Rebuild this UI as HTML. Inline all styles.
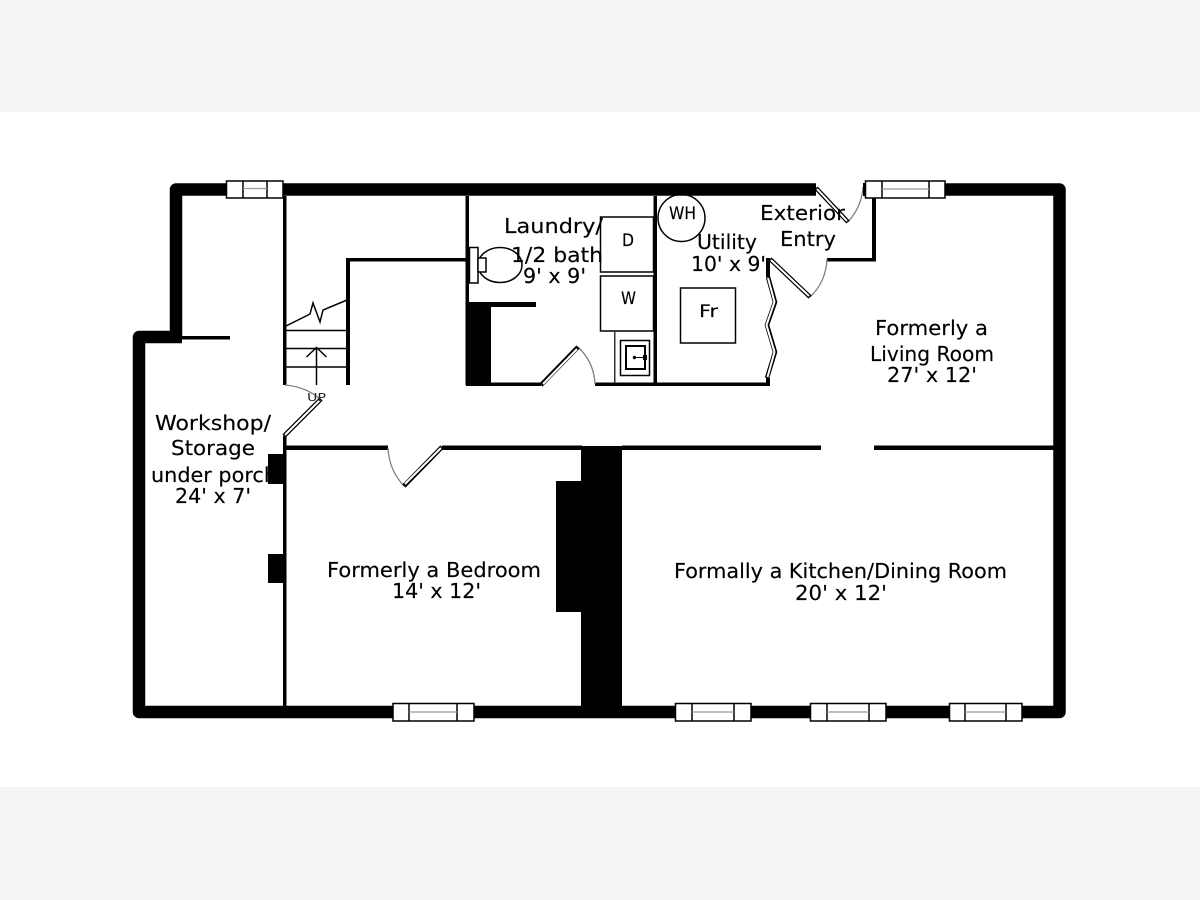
<!DOCTYPE html>
<html><head><meta charset="utf-8"><style>
html,body{margin:0;padding:0;background:#fff}
svg{display:block}
text{font-family:"DejaVu Sans","Liberation Sans",sans-serif;font-size:20px;fill:#000;stroke:#000;stroke-width:.15px}
</style></head><body>
<svg width="1200" height="900" viewBox="0 0 1200 900" xmlns="http://www.w3.org/2000/svg">
<rect width="1200" height="900" fill="#fff"/>
<rect width="1200" height="112" fill="#f5f5f5"/>
<rect y="787" width="1200" height="113" fill="#f5f5f5"/>

<!-- label hidden partly by the wall block -->
<text x="151" y="482" textLength="126" lengthAdjust="spacingAndGlyphs">under porch</text>

<!-- outer walls -->
<path d="M176 337V189.500H816M945 189.500H1059.500V712H139V337H182" fill="none" stroke="#000" stroke-width="12.500" stroke-linejoin="round"/>
<!-- solid masses -->
<g fill="#000">
<rect x="581" y="446" width="41" height="262"/>
<rect x="556" y="481" width="26" height="131"/>
<rect x="268" y="454" width="17" height="30"/>
<rect x="268" y="554" width="17" height="29"/>
<rect x="466" y="303" width="25" height="82"/>
<rect x="182" y="336" width="48" height="3.500"/>
<!-- interior walls -->
<rect x="283" y="196" width="3.500" height="189"/>
<rect x="283" y="436" width="3.500" height="270"/>
<rect x="346" y="259" width="4" height="126"/>
<rect x="346" y="258" width="122" height="3.500"/>
<rect x="465.500" y="196" width="3.500" height="189"/>
<rect x="466" y="302" width="70" height="5"/>
<rect x="466" y="382.500" width="75" height="3.500"/>
<rect x="595" y="382.500" width="174" height="3.500"/>
<rect x="653.500" y="196" width="3.500" height="188"/>
<rect x="872" y="196" width="4" height="65"/>
<rect x="827" y="258" width="49" height="3.500"/>
<rect x="286" y="445.500" width="102" height="4.500"/>
<rect x="442" y="445.500" width="140" height="4.500"/>
<rect x="622" y="445.500" width="199" height="4.500"/>
<rect x="874" y="445.500" width="180" height="4.500"/>
<rect x="766" y="258" width="4" height="19"/>
<rect x="766" y="378" width="4" height="8"/>
</g>

<!-- stairs -->
<g fill="none" stroke="#000" stroke-width="1.500">
<path d="M286 330.500H347M286 348.500H347M286 367H347"/>
<path d="M316.500 385V348M306.500 357L316.500 347.500L326.500 357"/>
<path d="M286 326L310 314L313 303L320 322L323 310L347 300"/>
</g>

<!-- appliances -->
<g fill="#fff" stroke="#000" stroke-width="1.500">
<rect x="600.500" y="217" width="53" height="55"/>
<rect x="600.500" y="276" width="53" height="55"/>
<rect x="680.500" y="288" width="55" height="55"/>
<circle cx="681.500" cy="218" r="23.500" fill="none"/>
<ellipse cx="500" cy="265" rx="22" ry="17.500" fill="none"/>
<rect x="469.500" y="247.500" width="8.500" height="35.500"/>
<rect x="478" y="258" width="8" height="14"/>
<rect x="620.500" y="340.500" width="29" height="35" fill="none"/>
</g>
<rect x="614" y="331" width="1.500" height="52" fill="#333"/>
<rect x="626" y="346" width="19" height="23" fill="none" stroke="#000" stroke-width="2"/>
<circle cx="634.500" cy="357.500" r="1.700" fill="#000"/>
<path d="M636 357.500H643" stroke="#000" stroke-width="1"/>
<rect x="643" y="355" width="4" height="5" fill="#000"/>

<!-- door arcs -->
<g fill="none" stroke="#808080" stroke-width="1.300">
<path d="M285 385Q308 387 322 401"/>
<path d="M388 448Q389 470 404 486"/>
<path d="M578 347Q594 362 595 384"/>
<path d="M848 222Q862 206 863 187"/>
<path d="M810 297Q826 282 827 259"/>
</g>
<!-- door leaves -->
<g fill="none" stroke="#000" stroke-width="4.500">
<path d="M284 436L321 399M404 486L442 447M541 385L578 347M816 188L848 222M770 259L810 297M768 277L775 302L767 325L775 352L767 378"/>
</g>
<g fill="none" stroke="#fff" stroke-width="2">
<path d="M285 435L320 400M405 484L441 448M543 384L577 349M817 189L847 221M771 260L809 296M768 278L774.500 302L766.500 325L774.500 352L767.500 377"/>
</g>
<text x="307" y="401" style="font-size:11px;fill:#222;stroke:none" textLength="19" lengthAdjust="spacingAndGlyphs">UP</text>

<!-- windows -->
<g fill="#fff" stroke="#000" stroke-width="1.500">
<rect x="226.500" y="181" width="56.500" height="17"/>
<rect x="865.500" y="181" width="79.500" height="17"/>
<rect x="393" y="703.500" width="81" height="17.500"/>
<rect x="675.500" y="703.500" width="75.500" height="17.500"/>
<rect x="810.500" y="703.500" width="75.500" height="17.500"/>
<rect x="949.500" y="703.500" width="72.500" height="17.500"/>
<path d="M243 181V198M267 181V198M882 181V198M929 181V198M409 703V721M457 703V721M692 703V721M734 703V721M827 703V721M869 703V721M965 703V721M1006 703V721" fill="none"/>
</g>
<g stroke="#999" stroke-width="1.200" fill="none">
<path d="M243 188.500H267M882 189H929M409 712H457M692 712H734M827 712H869M965 712H1006"/>
</g>
<rect x="863" y="183" width="3" height="13" fill="#000"/>

<!-- labels on top -->
<text x="155" y="430" textLength="116" lengthAdjust="spacingAndGlyphs">Workshop/</text>
<text x="171" y="455" textLength="84" lengthAdjust="spacingAndGlyphs">Storage</text>
<text x="175" y="503" textLength="76" lengthAdjust="spacingAndGlyphs">24' x 7'</text>
<text x="504" y="233" textLength="99" lengthAdjust="spacingAndGlyphs">Laundry/</text>
<text x="511" y="262" textLength="92" lengthAdjust="spacingAndGlyphs">1/2 bath</text>
<text x="523" y="283" textLength="63" lengthAdjust="spacingAndGlyphs">9' x 9'</text>
<text x="697" y="249" textLength="60" lengthAdjust="spacingAndGlyphs">Utility</text>
<text x="691" y="271" textLength="75" lengthAdjust="spacingAndGlyphs">10' x 9'</text>
<text x="760" y="220" textLength="85" lengthAdjust="spacingAndGlyphs">Exterior</text>
<text x="780" y="246" textLength="56" lengthAdjust="spacingAndGlyphs">Entry</text>
<text x="875" y="335" textLength="113" lengthAdjust="spacingAndGlyphs">Formerly a</text>
<text x="870" y="361" textLength="124" lengthAdjust="spacingAndGlyphs">Living Room</text>
<text x="887" y="382" textLength="90" lengthAdjust="spacingAndGlyphs">27' x 12'</text>
<text x="327" y="577" textLength="214" lengthAdjust="spacingAndGlyphs">Formerly a Bedroom</text>
<text x="392" y="598" textLength="89" lengthAdjust="spacingAndGlyphs">14' x 12'</text>
<text x="674" y="578" textLength="333" lengthAdjust="spacingAndGlyphs">Formally a Kitchen/Dining Room</text>
<text x="795" y="600" textLength="92" lengthAdjust="spacingAndGlyphs">20' x 12'</text>
<text x="622" y="246" style="font-size:17px" textLength="12" lengthAdjust="spacingAndGlyphs">D</text>
<text x="621" y="304" style="font-size:17px" textLength="15" lengthAdjust="spacingAndGlyphs">W</text>
<text x="699" y="317" style="font-size:17px" textLength="19" lengthAdjust="spacingAndGlyphs">Fr</text>
<text x="669" y="219" style="font-size:17px" textLength="27" lengthAdjust="spacingAndGlyphs">WH</text>
</svg>
</body></html>
